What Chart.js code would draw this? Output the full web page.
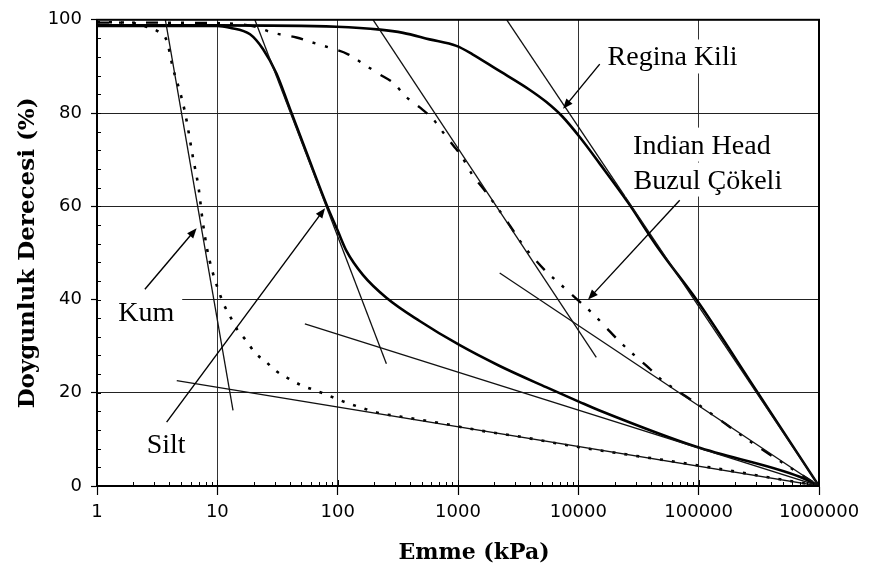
<!DOCTYPE html>
<html>
<head>
<meta charset="utf-8">
<script src="https://cdn.jsdelivr.net/npm/chart.js@4.4.1/dist/chart.umd.min.js"></script>
<style>
  html, body { margin: 0; padding: 0; background: #fff; }
  #wrap { width: 869px; height: 570px; }
</style>
</head>
<body>
<div id="wrap"><canvas id="c" width="869" height="570"></canvas></div>
<script>
// Soil-water characteristic curves: suction (kPa) vs degree of saturation (%)

// Kum (sand)
const kumSuction = [1, 2, 2.7, 3.3, 3.8, 4.3, 4.9, 5.4, 6.3, 7.0, 7.5, 8.2, 9.0, 9.9, 11.3, 12.7, 14.6, 17.5, 20.5, 25.7, 31, 40, 50, 67, 86, 107, 153, 225, 330, 510, 750, 1030, 1700, 2900, 5100, 7900, 100000, 1000000];
const kumSaturation = [99.5, 99.3, 98.3, 97.3, 95.5, 89.4, 84.5, 80, 70.2, 63.8, 57.4, 51, 46.5, 43, 39, 36.5, 33.6, 31.1, 28.6, 26.5, 24.6, 22.9, 21.6, 20.4, 19.3, 18.3, 16.9, 15.6, 14.9, 14.1, 13.4, 12.7, 11.7, 10.8, 9.7, 8.8, 4.4, 0];

// Silt
const siltSuction = [1, 10, 12.7, 18.7, 24, 31, 40, 55, 81, 100, 118, 162, 254, 480, 1035, 2200, 5400, 10300, 15000, 95700, 690000, 1000000];
const siltSaturation = [98.7, 98.7, 98.3, 96.9, 93.7, 88.5, 81, 71.6, 60.3, 54.8, 50.5, 45.3, 40.4, 35.4, 30.2, 25.8, 21.2, 18, 16.2, 8.4, 2, 0];

// Indian Head buzul çökeli (glacial till)
const ihSuction = [1, 10, 20, 29, 45.5, 60.6, 86, 122, 158, 216, 298, 362, 482, 620, 750, 910, 1060, 1320, 1620, 1950, 2600, 3400, 4500, 5400, 7000, 9500, 13400, 17000, 21800, 30500, 38300, 50000, 65000, 100000, 300000, 1000000];
const ihSaturation = [99.4, 99.3, 98.6, 97.2, 96.2, 95.2, 94, 92.6, 90.8, 88.5, 86.2, 83.7, 81.2, 78.7, 75.9, 73.1, 70.9, 66.7, 63.8, 61, 56.5, 52, 48.2, 46, 43.4, 40.3, 36.8, 34, 31.1, 27.6, 25.4, 22.6, 20.6, 17.4, 8.7, 0];

// Regina kili (clay)
const reginaSuction = [1, 10, 98, 225, 350, 580, 970, 1320, 2090, 3930, 5400, 7400, 10300, 15000, 26700, 39200, 50500, 95700, 301000, 1000000];
const reginaSaturation = [98.8, 98.8, 98.5, 97.9, 97.2, 95.8, 94.4, 92.6, 89.4, 85, 82.4, 79.2, 74.8, 69.2, 60.3, 53.7, 49.6, 40, 20.5, 0];

// Straight construction lines (two end points each)
const kumSteepSuction = [3.7, 13.5];      const kumSteepSaturation = [100, 16.2];
const kumFlatSuction = [4.6, 1000000];    const kumFlatSaturation = [22.6, 0];
const siltSteepSuction = [20.5, 254];     const siltSteepSaturation = [100, 26.2];
const siltFlatSuction = [53.4, 1000000];  const siltFlatSaturation = [34.8, 0];
const ihSteepSuction = [197, 14100];      const ihSteepSaturation = [100, 27.6];
const ihFlatSuction = [2220, 1000000];    const ihFlatSaturation = [45.7, 0];
const reginaLineSuction = [2540, 1000000]; const reginaLineSaturation = [100, 0];

// Axis ticks
const suctionTicks = [1, 10, 100, 1000, 10000, 100000, 1000000];
const suctionTickLabels = ['1', '10', '100', '1000', '10000', '100000', '1000000'];
const saturationTicks = [0, 20, 40, 60, 80, 100];

const toPoints = (xs, ys) => xs.map((v, i) => ({ x: v, y: ys[i] }));

const curve = (label, xs, ys, width, dash) => ({
  label, data: toPoints(xs, ys), showLine: true, pointRadius: 0,
  borderColor: '#000', borderWidth: width, borderDash: dash || [],
  cubicInterpolationMode: 'monotone', fill: false
});
const straight = (label, xs, ys) => ({
  label, data: toPoints(xs, ys), showLine: true, pointRadius: 0,
  borderColor: '#111', borderWidth: 1.3, tension: 0, fill: false
});

// Callout texts and arrows, anchored in data units (suction, saturation)
const textNotes = [
  { text: 'Regina Kili', at: [17500, 90.2] },
  { text: 'Indian Head', at: [28500, 71.3] },
  { text: 'Buzul Çökeli', at: [28800, 63.8] },
  { text: 'Kum', at: [1.5, 35.4], padLeft: 22 },
  { text: 'Silt', at: [2.59, 7] }
];
const arrowNotes = [
  { from: [15060, 90.5], to: [7470, 80.9] },
  { from: [69600, 61.3], to: [12050, 40.0] },
  { from: [2.5, 42.2], to: [6.73, 55.3] },
  { from: [3.79, 13.7], to: [78.5, 59.6] }
];

const decorations = {
  id: 'decorations',
  afterDatasetsDraw(chart) {
    const { ctx, chartArea: a, scales: { x, y } } = chart;
    ctx.save();

    // callout texts on white boxes
    ctx.font = '28px "Liberation Serif", "Times New Roman", serif';
    ctx.textBaseline = 'alphabetic';
    ctx.textAlign = 'left';
    textNotes.forEach(n => {
      const px = x.getPixelForValue(n.at[0]);
      const py = y.getPixelForValue(n.at[1]);
      const w = ctx.measureText(n.text).width;
      const pl = n.padLeft || 8;
      ctx.fillStyle = '#fff';
      ctx.fillRect(px - pl, py - 26, w + pl + 8, 34);
    });
    ctx.fillStyle = '#000';
    textNotes.forEach(n => {
      ctx.fillText(n.text, x.getPixelForValue(n.at[0]), y.getPixelForValue(n.at[1]));
    });

    // arrows
    ctx.strokeStyle = '#000';
    ctx.fillStyle = '#000';
    ctx.lineWidth = 1.4;
    arrowNotes.forEach(n => {
      const x0 = x.getPixelForValue(n.from[0]), y0 = y.getPixelForValue(n.from[1]);
      const x1 = x.getPixelForValue(n.to[0]), y1 = y.getPixelForValue(n.to[1]);
      const ang = Math.atan2(y1 - y0, x1 - x0);
      const L = 10, W = 4;
      ctx.beginPath();
      ctx.moveTo(x0, y0);
      ctx.lineTo(x1 - Math.cos(ang) * L * 0.8, y1 - Math.sin(ang) * L * 0.8);
      ctx.stroke();
      ctx.beginPath();
      ctx.moveTo(x1, y1);
      ctx.lineTo(x1 - Math.cos(ang) * L - Math.sin(ang) * W, y1 - Math.sin(ang) * L + Math.cos(ang) * W);
      ctx.lineTo(x1 - Math.cos(ang) * L + Math.sin(ang) * W, y1 - Math.sin(ang) * L - Math.cos(ang) * W);
      ctx.closePath();
      ctx.fill();
    });

    // minor ticks inside the frame
    ctx.lineWidth = 1;
    ctx.beginPath();
    for (let d = 0; d < suctionTicks.length - 1; d++) {
      for (let m = 2; m <= 9; m++) {
        const px = Math.round(x.getPixelForValue(suctionTicks[d] * m)) + 0.5;
        ctx.moveTo(px, a.bottom);
        ctx.lineTo(px, a.bottom - 4);
      }
    }
    suctionTicks.forEach(v => {
      const px = Math.round(x.getPixelForValue(v)) + 0.5;
      ctx.moveTo(px, a.bottom);
      ctx.lineTo(px, a.bottom - 6);
    });
    for (let v = 4; v < 100; v += 4) {
      const py = Math.round(y.getPixelForValue(v)) + 0.5;
      ctx.moveTo(a.left, py);
      ctx.lineTo(a.left + 4, py);
    }
    ctx.stroke();

    // plot frame
    ctx.lineWidth = 2;
    ctx.strokeRect(a.left, a.top, a.right - a.left, a.bottom - a.top);

    // axis titles
    ctx.font = 'bold 22px "DejaVu Serif", serif';
    ctx.textAlign = 'center';
    ctx.textBaseline = 'alphabetic';
    ctx.fillText('Emme (kPa)', (a.left + a.right) / 2 + 16, 559);
    ctx.font = 'bold 23px "DejaVu Serif", serif';
    ctx.translate(28, (a.top + a.bottom) / 2);
    ctx.rotate(-Math.PI / 2);
    ctx.textBaseline = 'middle';
    ctx.fillText('Doygunluk Derecesi (%)', 0, 0);
    ctx.restore();
  }
};

new Chart(document.getElementById('c'), {
  type: 'scatter',
  data: {
    datasets: [
      straight('Kum dik', kumSteepSuction, kumSteepSaturation),
      straight('Kum yatık', kumFlatSuction, kumFlatSaturation),
      straight('Silt dik', siltSteepSuction, siltSteepSaturation),
      straight('Silt yatık', siltFlatSuction, siltFlatSaturation),
      straight('Indian Head dik', ihSteepSuction, ihSteepSaturation),
      straight('Indian Head yatık', ihFlatSuction, ihFlatSaturation),
      straight('Regina doğru', reginaLineSuction, reginaLineSaturation),
      curve('Kum', kumSuction, kumSaturation, 2.6, [3, 9]),
      curve('Silt', siltSuction, siltSaturation, 2.6),
      curve('Indian Head Buzul Çökeli', ihSuction, ihSaturation, 2.4, [12, 10, 3, 10, 3, 11]),
      curve('Regina Kili', reginaSuction, reginaSaturation, 2.6)
    ]
  },
  options: {
    responsive: false,
    animation: false,
    devicePixelRatio: 1,
    layout: { padding: { top: 17, right: 50, left: 0, bottom: 0 } },
    plugins: { legend: { display: false }, tooltip: { enabled: false } },
    scales: {
      x: {
        type: 'logarithmic',
        min: 1, max: 1000000,
        afterBuildTicks: s => { s.ticks = suctionTicks.map(v => ({ value: v, major: true })); },
        afterFit: s => { s.height = 84; },
        ticks: {
          autoSkip: false, maxRotation: 0, padding: 7, color: '#000',
          font: { family: 'DejaVu Sans', size: 18 },
          callback: (v, i) => suctionTickLabels[i]
        },
        grid: { color: '#333', lineWidth: 1, tickLength: 9, tickColor: '#000', tickWidth: 1.2 },
        border: { color: '#000', width: 2 }
      },
      y: {
        min: 0, max: 100,
        afterBuildTicks: s => { s.ticks = saturationTicks.map(v => ({ value: v })); },
        afterFit: s => { s.width = 97; },
        ticks: {
          padding: 9, color: '#000',
          font: { family: 'DejaVu Sans', size: 18 }
        },
        grid: { color: '#222', lineWidth: 1, tickLength: 6, tickColor: '#000', tickWidth: 1.2 },
        border: { color: '#000', width: 2 }
      }
    }
  },
  plugins: [decorations]
});
</script>
</body>
</html>
